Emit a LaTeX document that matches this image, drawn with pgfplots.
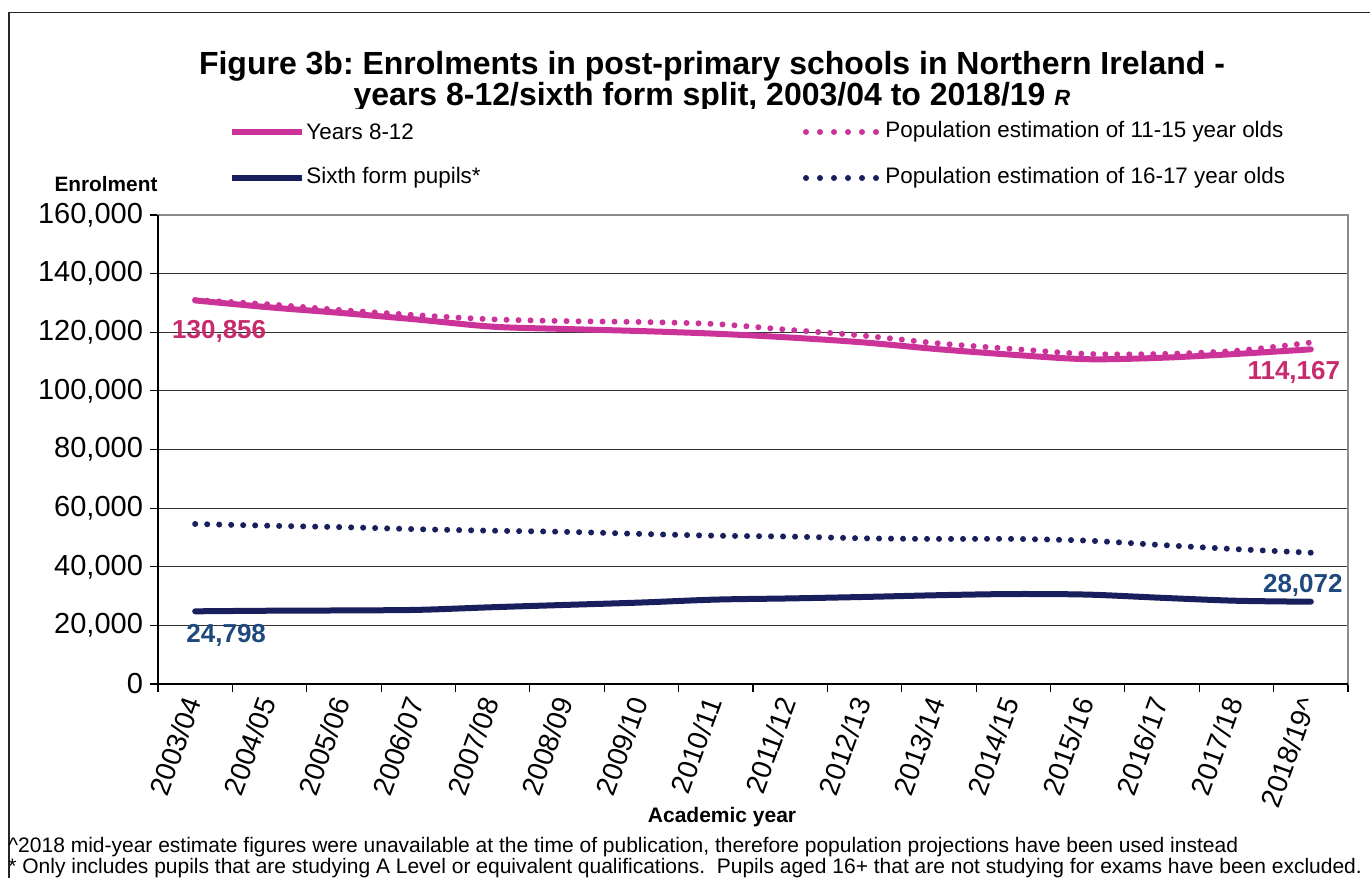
\documentclass[border=0pt]{standalone}
\usepackage{fontspec}
\setmainfont{Liberation Sans}
\usepackage{pgfplots}
\pgfplotsset{compat=1.18}

\definecolor{pinkline}{RGB}{204,51,153}
\definecolor{pinklab}{RGB}{200,42,110}
\definecolor{navyline}{RGB}{24,31,92}
\definecolor{bluelab}{RGB}{31,73,125}

\begin{document}
\frenchspacing
\begin{tikzpicture}
\path[use as bounding box] (0,0) rectangle (685pt,-439pt);
% chart frame (left and top edges visible)
\draw[black!85, line width=0.8pt] (4.5pt,-439pt) -- (4.5pt,-6.25pt) -- (685pt,-6.25pt);

% title, clipped at the bottom like the reference
\begin{scope}
  \clip (0,0) rectangle (685pt,-54pt);
  \node[anchor=base, inner sep=0, font=\bfseries\fontsize{16}{19}\selectfont] at (356pt,-37pt)
    {Figure 3b: Enrolments in post-primary schools in Northern Ireland -};
  \node[anchor=base, inner sep=0, font=\bfseries\fontsize{16}{19}\selectfont] at (356pt,-52.5pt)
    {years 8-12/sixth form split, 2003/04 to 2018/19 {\itshape\fontsize{11}{13}\selectfont R}};
\end{scope}

% legend
\draw[pinkline, line width=3pt] (116pt,-66pt) -- (151pt,-66pt);
\node[anchor=west, inner sep=0, font=\fontsize{11.2}{13}\selectfont] at (153pt,-66pt) {Years 8-12};
\draw[navyline, line width=3pt] (116pt,-89pt) -- (151pt,-89pt);
\node[anchor=west, inner sep=0, font=\fontsize{11.2}{13}\selectfont] at (153pt,-89pt) {Sixth form pupils*};
\draw[pinkline, line width=3pt, line cap=round, dash pattern=on 0pt off 7pt] (403pt,-66pt) -- (439pt,-66pt);
\node[anchor=west, inner sep=0, font=\fontsize{11.2}{13}\selectfont] at (442.5pt,-66pt) {Population estimation of 11-15 year olds};
\draw[navyline, line width=3pt, line cap=round, dash pattern=on 0pt off 7pt] (403pt,-89pt) -- (439pt,-89pt);
\node[anchor=west, inner sep=0, font=\fontsize{11.2}{13}\selectfont] at (442.5pt,-89pt) {Population estimation of 16-17 year olds};

\node[anchor=base, inner sep=0, font=\bfseries\fontsize{10.4}{12}\selectfont] at (53pt,-95.5pt) {Enrolment};

\begin{axis}[
    at={(79pt,-342pt)}, anchor=south west,
    scale only axis,
    width=595pt, height=234.5pt,
    xmin=-0.5, xmax=15.5,
    ymin=0, ymax=160000,
    scaled y ticks=false,
    ytick={0,20000,40000,60000,80000,100000,120000,140000,160000},
    yticklabels={0,{20,000},{40,000},{60,000},{80,000},{100,000},{120,000},{140,000},{160,000}},
    xtick={0,...,15},
    xticklabels={2003/04,2004/05,2005/06,2006/07,2007/08,2008/09,2009/10,2010/11,
                 2011/12,2012/13,2013/14,2014/15,2015/16,2016/17,2017/18,2018/19\textasciicircum},
    minor xtick={-0.5,0.5,...,15.5},
    every major x tick/.append style={draw=none},
    tick align=outside,
    major tick length=4pt, minor tick length=4pt,
    tick style={black, line width=0.6pt},
    xtick pos=bottom, ytick pos=left,
    x tick label style={rotate=70, anchor=east, font=\fontsize{14}{16}\selectfont},
    y tick label style={font=\fontsize{14.5}{16}\selectfont},
    ymajorgrids,
    grid style={black!80, line width=0.5pt},
    axis line style={black!45, line width=0.9pt},
    xlabel={Academic year},
    xlabel style={at={(axis description cs:0.474,0)}, anchor=base, yshift=-69pt,
                  font=\bfseries\fontsize{10.5}{12}\selectfont},
    clip=false,
]
% Population estimation of 11-15 year olds
\addplot[pinkline, line width=3pt, line cap=round, dash pattern=on 0pt off 6pt, smooth] coordinates {
  (0,131000) (1,129500) (2,127500) (3,125800) (4,124400) (5,123800) (6,123500) (7,122800)
  (8,120800) (9,118800) (10,116200) (11,114300) (12,112600) (13,112600) (14,113700) (15,116500)
};
% Years 8-12
\addplot[pinkline, line width=3pt, line cap=round, smooth] coordinates {
  (0,130856) (1,128500) (2,126500) (3,124300) (4,121900) (5,121100) (6,120400) (7,119500)
  (8,118200) (9,116500) (10,114200) (11,112300) (12,110800) (13,111300) (14,112600) (15,114167)
} node[pos=0, xshift=12pt, yshift=-15.5pt, text=pinklab, font=\bfseries\fontsize{13}{15}\selectfont] {130,856}
  node[pos=1, xshift=-8.5pt, yshift=-11.5pt, text=pinklab, font=\bfseries\fontsize{13}{15}\selectfont] {114,167};
% Population estimation of 16-17 year olds
\addplot[navyline, line width=3pt, line cap=round, dash pattern=on 0pt off 6pt, smooth] coordinates {
  (0,54600) (1,54000) (2,53500) (3,52800) (4,52300) (5,51900) (6,51200) (7,50600)
  (8,50300) (9,49700) (10,49500) (11,49500) (12,48900) (13,47400) (14,46000) (15,44800)
};
% Sixth form pupils
\addplot[navyline, line width=3pt, line cap=round, smooth] coordinates {
  (0,24798) (1,25000) (2,25100) (3,25300) (4,26200) (5,27000) (6,27800) (7,28800)
  (8,29200) (9,29700) (10,30300) (11,30700) (12,30500) (13,29400) (14,28400) (15,28072)
} node[pos=0, xshift=15.5pt, yshift=-12pt, text=bluelab, font=\bfseries\fontsize{13}{15}\selectfont] {24,798}
  node[pos=1, xshift=-4pt, yshift=8pt, text=bluelab, font=\bfseries\fontsize{13}{15}\selectfont] {28,072};
% darker left and bottom axis lines
\draw[black, line width=0.9pt] (rel axis cs:0,1) -- (rel axis cs:0,0) -- (rel axis cs:1,0);
\end{axis}

\node[anchor=base west, inner sep=0, font=\fontsize{10.5}{12}\selectfont] at (4pt,-426pt)
  {\textasciicircum 2018 mid-year estimate figures were unavailable at the time of publication, therefore population projections have been used instead};
\node[anchor=base west, inner sep=0, font=\fontsize{10.5}{12}\selectfont] at (4pt,-436.5pt)
  {* Only includes pupils that are studying A Level or equivalent qualifications.\ \ Pupils aged 16+ that are not studying for exams have been excluded.};
\end{tikzpicture}
\end{document}
